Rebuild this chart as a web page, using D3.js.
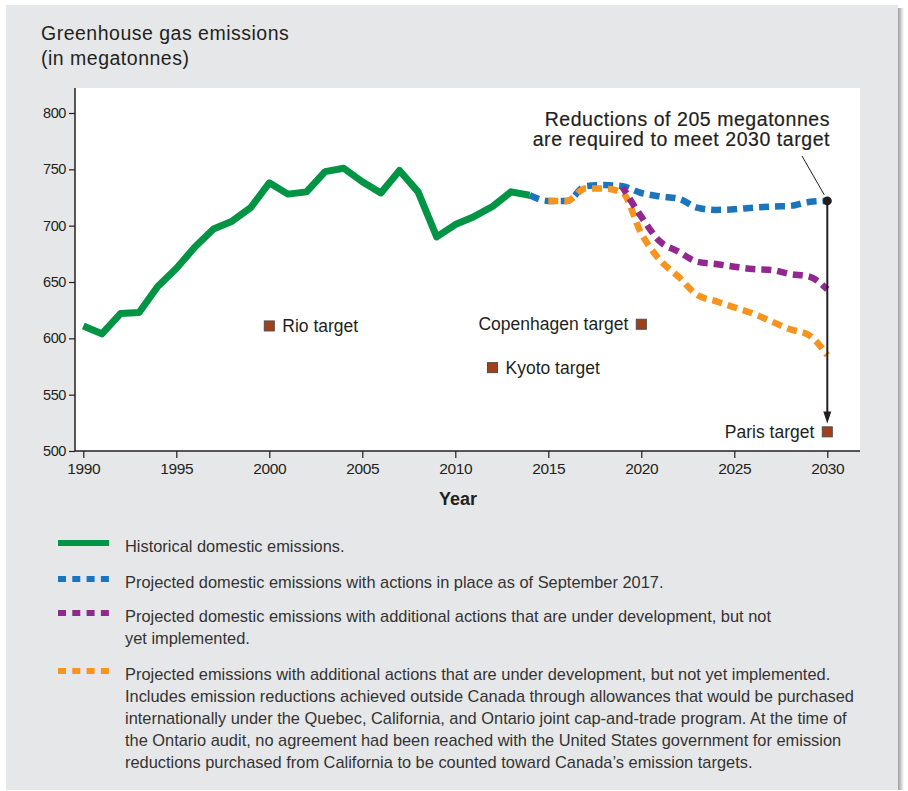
<script src="https://d3js.org/d3.v7.min.js"></script>
<style>
  body { margin: 0; background: #fff; font-family: "Liberation Sans", Arial, sans-serif; }
</style>
<div id="chart"></div>
<script>
// historical emissions 1990-2014
var histYears = d3.range(1990, 2015);
var histValues = [611, 604, 622, 623, 646, 662, 681, 697, 704, 716, 738, 728, 730, 748, 751, 739, 729, 749, 730, 690, 701, 708, 717, 730, 727];

// projection with actions in place (blue)
var blueYears = d3.range(2014, 2031);
var blueValues = [727, 722, 722, 735, 736, 735, 729, 726, 724, 716, 714, 714.5, 716, 717, 717.5, 721, 722];

// additional actions (purple)
var purpleYears = d3.range(2019, 2031);
var purpleValues = [734, 708, 686, 677, 668, 666, 663.6, 661.5, 660.7, 657, 655, 643.5];

// incl. cap-and-trade (orange)
var orangeYears = d3.range(2015, 2031);
var orangeValues = [722, 722, 733, 733, 729, 693, 669.5, 654.7, 638.5, 633, 627.5, 622, 615, 608, 603, 585];

var targetNames = ["Rio target", "Kyoto target", "Copenhagen target", "Paris target"];
var targetYears = [2000, 2012, 2020, 2030];
var targetValues = [611, 574, 612.5, 517];

var xTicks = [1990, 1995, 2000, 2005, 2010, 2015, 2020, 2025, 2030];
var yTicks = [500, 550, 600, 650, 700, 750, 800];

var legendLabels = [
  ["Historical domestic emissions."],
  ["Projected domestic emissions with actions in place as of September 2017."],
  ["Projected domestic emissions with additional actions that are under development, but not", "yet implemented."],
  ["Projected emissions with additional actions that are under development, but not yet implemented.",
   "Includes emission reductions achieved outside Canada through allowances that would be purchased",
   "internationally under the Quebec, California, and Ontario joint cap-and-trade program. At the time of",
   "the Ontario audit, no agreement had been reached with the United States government for emission",
   "reductions purchased from California to be counted toward Canada\u2019s emission targets."]
];
var legendColors = ["#009444", "#1c75bc", "#92278f", "#f7941d"];

var W = 908, H = 791;
var svg = d3.select("#chart").append("svg").attr("width", W).attr("height", H);

// panel and its shadow
var grad = svg.append("defs").append("linearGradient").attr("id", "shadow");
grad.append("stop").attr("offset", "0%").attr("stop-color", "#9a9b9d");
grad.append("stop").attr("offset", "100%").attr("stop-color", "#ffffff");
svg.append("rect").attr("x", 898).attr("y", 8).attr("width", 6).attr("height", 782).attr("fill", "url(#shadow)");
svg.append("rect").attr("x", 6).attr("y", 5).attr("width", 892).attr("height", 785).attr("fill", "#e6e7e8");

// plot area
svg.append("rect").attr("x", 75).attr("y", 88).attr("width", 785).attr("height", 363).attr("fill", "#fff");

var x = d3.scaleLinear().domain([1990, 2030]).range([83.3, 827.3]);
var y = d3.scaleLinear().domain([500, 800]).range([451, 113]);

svg.append("text").attr("x", 41).attr("y", 40).attr("font-size", "19.5px").attr("letter-spacing", "0.5px")
  .attr("fill", "#231f20").text("Greenhouse gas emissions");
svg.append("text").attr("x", 41).attr("y", 65).attr("font-size", "19.5px").attr("letter-spacing", "0.5px")
  .attr("fill", "#231f20").text("(in megatonnes)");

// axes
var yAxis = svg.append("g").attr("transform", "translate(75,0)")
  .call(d3.axisLeft(y).tickValues(yTicks).tickSize(6).tickPadding(3).tickFormat(d3.format("d")));
yAxis.select(".domain").remove();
svg.append("line").attr("x1", 75).attr("x2", 75).attr("y1", 88).attr("y2", 451).attr("stroke", "#231f20").attr("stroke-width", 1.5);

var xAxis = svg.append("g").attr("transform", "translate(0,451)")
  .call(d3.axisBottom(x).tickValues(xTicks).tickSize(7).tickPadding(5).tickFormat(d3.format("d")));
xAxis.select(".domain").remove();
svg.append("line").attr("x1", 75).attr("x2", 860).attr("y1", 451).attr("y2", 451).attr("stroke", "#231f20").attr("stroke-width", 1.5);

svg.selectAll(".tick line").attr("stroke", "#231f20").attr("stroke-width", 1.2);
svg.selectAll(".tick text").attr("font-family", "'Liberation Sans', Arial, sans-serif").attr("fill", "#231f20").attr("letter-spacing", "-0.4px");
yAxis.selectAll("text").attr("font-size", "14.5px");
xAxis.selectAll("text").attr("font-size", "15.5px");

svg.append("text").attr("x", 458).attr("y", 505).attr("text-anchor", "middle")
  .attr("font-size", "18px").attr("font-weight", "bold").attr("fill", "#231f20").text("Year");

// lines
var line = d3.line().x(function (d) { return x(d[0]); }).y(function (d) { return y(d[1]); });
var smooth = d3.line().curve(d3.curveMonotoneX).x(function (d) { return x(d[0]); }).y(function (d) { return y(d[1]); });

function pairs(years, vals) { return years.map(function (yr, i) { return [yr, vals[i]]; }); }

svg.append("path").datum(pairs(blueYears, blueValues)).attr("d", smooth)
  .attr("fill", "none").attr("stroke", legendColors[1]).attr("stroke-width", 6.5).attr("stroke-dasharray", "10,6");
svg.append("path").datum(pairs(orangeYears, orangeValues)).attr("d", smooth)
  .attr("fill", "none").attr("stroke", legendColors[3]).attr("stroke-width", 6.5).attr("stroke-dasharray", "10,6");
svg.append("path").datum(pairs(purpleYears, purpleValues)).attr("d", smooth)
  .attr("fill", "none").attr("stroke", legendColors[2]).attr("stroke-width", 6.5).attr("stroke-dasharray", "10,6").attr("stroke-dashoffset", 3);
svg.append("path").datum(pairs(histYears, histValues)).attr("d", line)
  .attr("fill", "none").attr("stroke", legendColors[0]).attr("stroke-width", 7).attr("stroke-linejoin", "round");

// reduction arrow
var endYear = 2030, endVal = blueValues[blueValues.length - 1];
svg.append("line").attr("x1", x(endYear)).attr("x2", x(endYear)).attr("y1", y(endVal)).attr("y2", y(targetValues[3] + 16))
  .attr("stroke", "#231f20").attr("stroke-width", 2);
svg.append("path")
  .attr("d", "M" + (x(endYear) - 4) + "," + y(targetValues[3] + 18) + "L" + (x(endYear) + 4) + "," + y(targetValues[3] + 18) + "L" + x(endYear) + "," + y(targetValues[3] + 7.5) + "Z")
  .attr("fill", "#231f20");
svg.append("circle").attr("cx", x(endYear)).attr("cy", y(endVal)).attr("r", 4.5).attr("fill", "#231f20");
svg.append("line").attr("x1", 802).attr("y1", 156).attr("x2", x(endYear) - 3).attr("y2", y(endVal) - 6)
  .attr("stroke", "#231f20").attr("stroke-width", 1);
var note = ["Reductions of 205 megatonnes", "are required to meet 2030 target"];
note.forEach(function (t, i) {
  svg.append("text").attr("x", 830).attr("y", 126 + i * 20).attr("text-anchor", "end")
    .attr("font-size", "19.5px").attr("letter-spacing", "0.55px")
    .attr("fill", "#231f20").attr("stroke", "#231f20").attr("stroke-width", 0.2)
    .text(t);
});

// targets
var tg = svg.append("g").selectAll("g").data(targetNames).enter().append("g");
tg.append("rect")
  .attr("x", function (d, i) { return x(targetYears[i]) - 5; })
  .attr("y", function (d, i) { return y(targetValues[i]) - 5; })
  .attr("width", 10).attr("height", 10)
  .attr("fill", "#a0401a").attr("stroke", "#4d4d4d").attr("stroke-width", 1);
tg.append("text")
  .attr("x", function (d, i) { return i < 2 ? x(targetYears[i]) + 13 : x(targetYears[i]) - 13; })
  .attr("y", function (d, i) { return y(targetValues[i]) + 6; })
  .attr("text-anchor", function (d, i) { return i < 2 ? "start" : "end"; })
  .attr("font-size", "17.5px").attr("fill", "#231f20")
  .text(function (d) { return d; });

// legend
var rowY = [552, 588, 622, 680];
var leg = svg.append("g");
legendLabels.forEach(function (lines, i) {
  leg.append("line").attr("x1", 58).attr("x2", 109).attr("y1", rowY[i] - 9).attr("y2", rowY[i] - 9)
    .attr("stroke", legendColors[i]).attr("stroke-width", 6)
    .attr("stroke-dasharray", i == 0 ? null : "8,6.3");
  lines.forEach(function (t, j) {
    leg.append("text").attr("x", 125).attr("y", rowY[i] + j * 22).attr("font-size", "16.4px").attr("fill", "#333")
      .text(t);
  });
});
</script>
